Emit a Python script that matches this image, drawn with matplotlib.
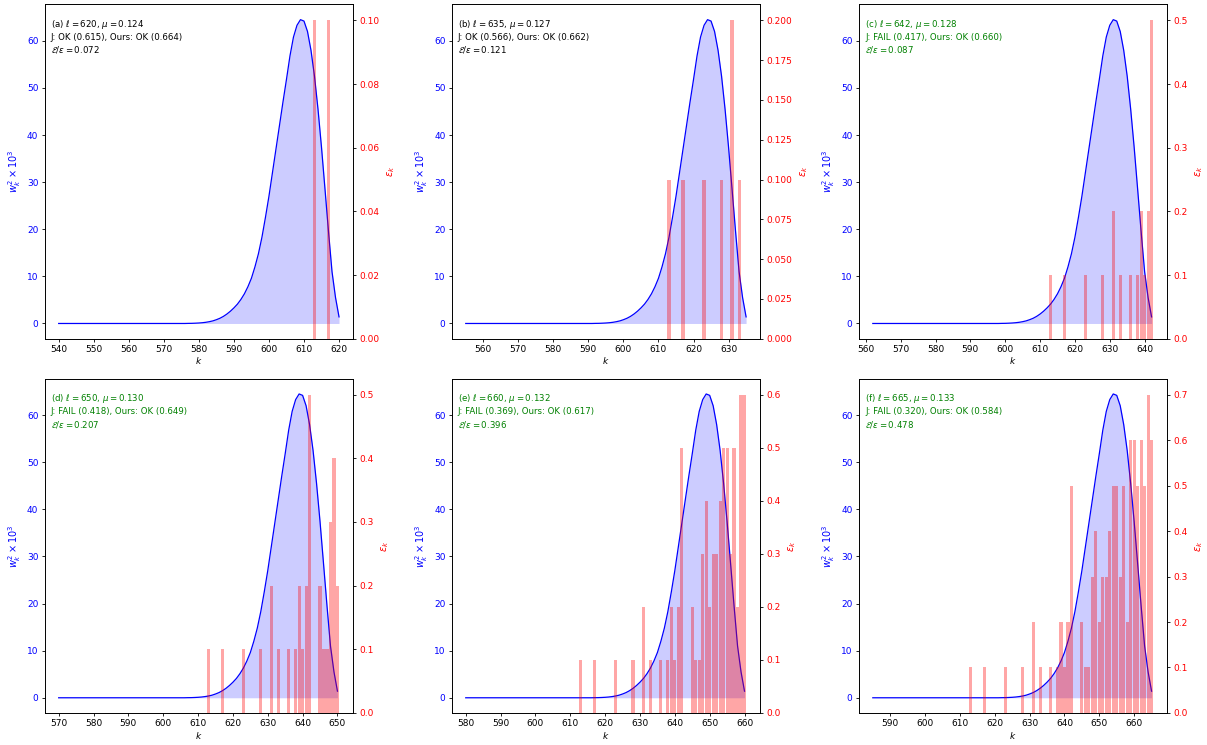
import numpy as np
import matplotlib
matplotlib.use('Agg')
import matplotlib.pyplot as plt

# panel parameters
panels = ['a', 'b', 'c', 'd', 'e', 'f']
ells = [620, 635, 642, 650, 660, 665]
mus = [0.124, 0.127, 0.128, 0.130, 0.132, 0.133]
j_status = ['OK', 'OK', 'FAIL', 'FAIL', 'FAIL', 'FAIL']
j_score = [0.615, 0.566, 0.417, 0.418, 0.369, 0.320]
ours_status = ['OK', 'OK', 'OK', 'OK', 'OK', 'OK']
ours_score = [0.664, 0.662, 0.660, 0.649, 0.617, 0.584]
ratio = [0.072, 0.121, 0.087, 0.207, 0.396, 0.478]

# w_k^2 x 10^3, indexed by d = ell - k (d = 0 is k = ell)
w2_profile = [1.4, 5.5, 11.0, 19.5, 28.5, 37.4, 45.5, 52.5, 58.0, 62.0,
              64.2, 64.5, 63.3, 60.8, 56.8, 51.8, 47.0, 42.0, 37.0, 32.0,
              27.0, 22.5, 18.3, 14.8, 12.0, 9.6, 7.8, 6.3, 5.1, 4.1,
              3.3, 2.6, 2.0, 1.5, 1.1, 0.8, 0.55, 0.38, 0.25, 0.16,
              0.1, 0.06, 0.03, 0.02]

# per-k error rates epsilon_k
eps_k = [613, 617, 623, 628, 631, 633, 636, 638, 639, 640, 641, 642,
         645, 646, 647, 648, 649, 650, 651, 652, 653, 654, 655, 656,
         657, 658, 659, 660, 661, 662, 663, 664, 665]
eps_v = [0.1, 0.1, 0.1, 0.1, 0.2, 0.1, 0.1, 0.1, 0.2, 0.1, 0.2, 0.5,
         0.2, 0.1, 0.1, 0.3, 0.4, 0.2, 0.3, 0.3, 0.4, 0.5, 0.5, 0.3,
         0.5, 0.2, 0.6, 0.6, 0.5, 0.6, 0.5, 0.7, 0.6]

TICK_FS = 6.5
TEXT_FS = 6.2

plt.rcParams['axes.linewidth'] = 0.6
plt.rcParams['xtick.major.size'] = 2.5
plt.rcParams['ytick.major.size'] = 2.5
plt.rcParams['xtick.major.width'] = 0.6
plt.rcParams['ytick.major.width'] = 0.6
plt.rcParams['xtick.major.pad'] = 2.0
plt.rcParams['ytick.major.pad'] = 2.0

fig, axes = plt.subplots(2, 3, figsize=(12.07, 7.45), dpi=100)
fig.subplots_adjust(left=0.037, right=0.967, top=0.994, bottom=0.043,
                    wspace=0.32, hspace=0.12)

for i, ax in enumerate(axes.flat):
    ell = ells[i]
    k = np.arange(ell - 80, ell + 1)
    w2 = np.array([w2_profile[ell - kk] if ell - kk < len(w2_profile) else 0.0
                   for kk in k])

    ax.plot(k, w2, color='blue', linewidth=0.9)
    ax.fill_between(k, w2, color='blue', alpha=0.2, linewidth=0)
    ax.set_xlabel('$k$', fontsize=TICK_FS, labelpad=1)
    ax.set_ylabel(r'$w_k^2 \times 10^3$', color='blue', fontsize=TICK_FS + 0.5,
                  labelpad=3)
    ax.tick_params(axis='y', labelcolor='blue', labelsize=TICK_FS)
    ax.tick_params(axis='x', labelsize=TICK_FS)

    ax2 = ax.twinx()
    bk = [kk for kk in eps_k if kk <= ell]
    bv = [v for kk, v in zip(eps_k, eps_v) if kk <= ell]
    ax2.bar(bk, bv, width=0.9, color='red', alpha=0.35)
    ax2.set_ylabel(r'$\varepsilon_k$', color='red', fontsize=TICK_FS + 0.5)
    ax2.tick_params(axis='y', labelcolor='red', labelsize=TICK_FS)

    txt = (f'({panels[i]}) $\\ell = {ell}$, $\\mu = {mus[i]:.3f}$\n'
           f'J: {j_status[i]} ({j_score[i]:.3f}), Ours: {ours_status[i]} ({ours_score[i]:.3f})\n'
           f'$\\mathcal{{E}}/\\varepsilon = {ratio[i]:.3f}$')
    col = 'black' if j_status[i] == 'OK' else 'green'
    ax.text(0.02, 0.96, txt, transform=ax.transAxes, va='top', ha='left',
            fontsize=TEXT_FS, color=col, linespacing=1.3)

fig.savefig('out.png', dpi=100)
